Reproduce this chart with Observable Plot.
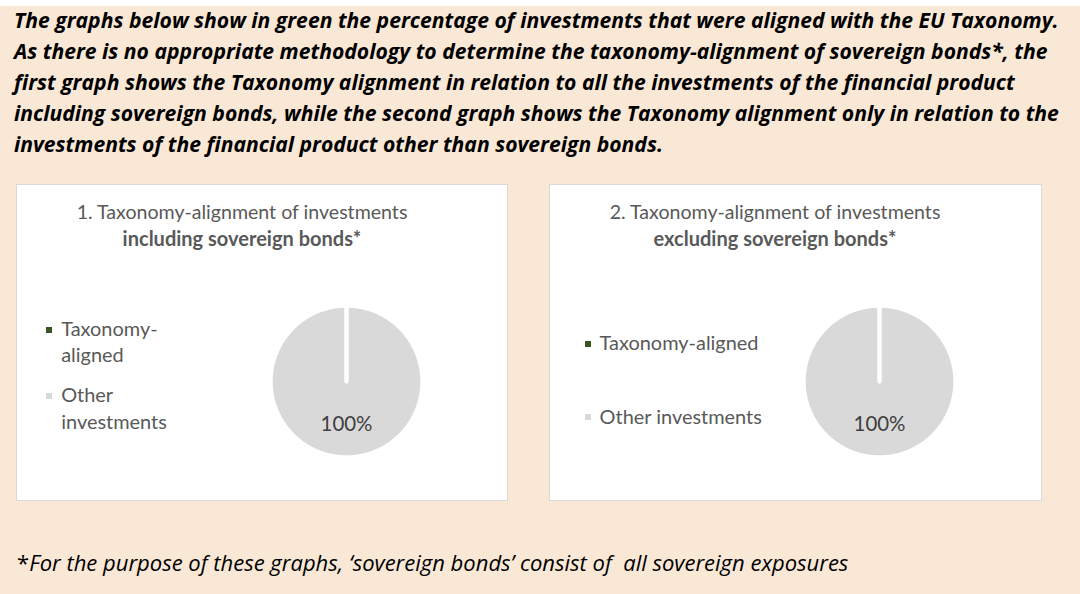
<!DOCTYPE html>
<html>
<head>
<meta charset="utf-8">
<script src="https://cdn.jsdelivr.net/npm/d3@7"></script>
<script src="https://cdn.jsdelivr.net/npm/@observablehq/plot@0.6"></script>
<style>
  html, body { margin: 0; padding: 0; background: #ffffff; }
  body { width: 1080px; height: 594px; position: relative; overflow: hidden; font-family: Lato, "Open Sans", sans-serif; }
  .abs { position: absolute; white-space: nowrap; line-height: 1.2; }
</style>
</head>
<body>
<script>
// ---------- data ----------
const headerLines = [
  "The graphs below show in green the percentage of investments that were aligned with the EU Taxonomy.",
  "As there is no appropriate methodology to determine the taxonomy-alignment of sovereign bonds*, the",
  "first graph shows the Taxonomy alignment in relation to all the investments of the financial product",
  "including sovereign bonds, while the second graph shows the Taxonomy alignment only in relation to the",
  "investments of the financial product other than sovereign bonds."
];
const chartTitles = ["1. Taxonomy-alignment of investments", "2. Taxonomy-alignment of investments"];
const chartSubtitles = ["including sovereign bonds*", "excluding sovereign bonds*"];
const categories = ["Taxonomy-aligned", "Other investments"];
const legendLines1 = [["Taxonomy-", "aligned"], ["Other", "investments"]];
const legendLines2 = [["Taxonomy-aligned"], ["Other investments"]];
const valuesIncluding = [0, 100];
const valuesExcluding = [0, 100];
const sliceColors = ["#375623", "#D9D9D9"];
const footnoteMark = "*";
const footnoteText = "For the purpose of these graphs, \u2018sovereign bonds\u2019 consist of \u00a0all sovereign exposures";

// ---------- helpers ----------
const body = document.body;
const ctx = document.createElement("canvas").getContext("2d");
function fitSize(str, family, weight, style, targetWidth) {
  ctx.font = `${style} ${weight} 20px ${family}`;
  return 20 * targetWidth / ctx.measureText(str).width;
}
function box(x, y, w, h, style) {
  const d = document.createElement("div");
  d.style.position = "absolute";
  d.style.left = x + "px"; d.style.top = y + "px";
  d.style.width = w + "px"; d.style.height = h + "px";
  d.style.boxSizing = "border-box";
  Object.assign(d.style, style || {});
  body.appendChild(d);
  return d;
}
function text(str, x, baseline, o) {
  const size = o.size;
  const d = document.createElement("div");
  d.className = "abs";
  d.style.fontFamily = o.family || "Lato";
  d.style.fontSize = size + "px";
  const asc = (o.family || "Lato").includes("Open Sans") ? 1.069 : 0.987;
  const lh = (o.family || "Lato").includes("Open Sans") ? 1.362 : 1.2;
  d.style.lineHeight = lh;
  d.style.top = (baseline - asc * size) + "px";
  d.style.color = o.color || "#000";
  d.style.fontWeight = o.weight || "normal";
  d.style.fontStyle = o.style || "normal";
  if (o.anchor === "middle") {
    d.style.left = (x - 500) + "px"; d.style.width = "1000px"; d.style.textAlign = "center";
  } else {
    d.style.left = x + "px";
  }
  if (o.html) d.innerHTML = str; else d.textContent = str;
  body.appendChild(d);
  return d;
}

// page background
box(0, 6, 1080, 588, { background: "#FAE8D7" });

// header
const HF = "'Open Sans'";
const headerSize = fitSize(headerLines[0], HF, "bold", "italic", 1045);
const headerBase = [28.5, 59.5, 90.5, 121.5, 152.5];
headerLines.forEach((l, i) => text(l, 14, headerBase[i], { family: HF, size: headerSize, weight: "bold", style: "italic", color: "#000" }));

// chart text sizes
const titleSize = fitSize(chartTitles[0], "Lato", "normal", "normal", 332);
const subSize = fitSize(chartSubtitles[0], "Lato", "bold", "normal", 239);
const legendSize = fitSize(categories[0], "Lato", "normal", "normal", 159);
const labelSize = fitSize("100%", "Lato", "normal", "normal", 52);

// panels
const panels = [
  { x: 16, w: 492, titleX: 242, cx: 345.8, legendX: 49, legendTextX: 61.2, values: valuesIncluding,
    legend: legendLines1, legendBase: [[336.5, 363], [403, 429.5]] },
  { x: 549, w: 493, titleX: 775, cx: 879.4, legendX: 588, legendTextX: 599.6, values: valuesExcluding,
    legend: legendLines2, legendBase: [[350.7], [424.4]] }
];
const cy = 381.2, R = 73.8, sw = 4;

panels.forEach((p, k) => {
  box(p.x, 184, p.w, 317, { background: "#ffffff", border: "1px solid #D9D9D9" });
  text(chartTitles[k], p.titleX, 219.5, { size: titleSize, color: "#595959", anchor: "middle" });
  text(chartSubtitles[k], p.titleX, 245.5, { size: subSize, color: "#595959", weight: "bold", anchor: "middle" });

  // legend
  categories.forEach((c, i) => {
    const bl = p.legendBase[i];
    box(p.legendX - 3, bl[0] - 10, 6, 6, { background: sliceColors[i] });
    p.legend[i].forEach((ln, j) => text(ln, p.legendTextX, bl[j], { size: legendSize, color: "#595959" }));
  });

  // pie drawn through Plot scales
  const pie = d3.pie().sort(null).value(d => d.value)(categories.map((c, i) => ({ name: c, value: p.values[i], color: sliceColors[i] })));
  const pts = [];
  pie.slice().reverse().forEach(s => {
    pts.push({ name: s.data.name, color: s.data.color, x: 0, y: 0 });
    const n = Math.max(1, Math.ceil((s.endAngle - s.startAngle) / (Math.PI / 180)));
    for (let t = 0; t <= n; t++) {
      const a = s.startAngle + (s.endAngle - s.startAngle) * t / n;
      pts.push({ name: s.data.name, color: s.data.color, x: Math.sin(a), y: Math.cos(a) });
    }
  });
  const labels = pie.filter(s => s.data.value > 0).map(s => {
    const m = (s.startAngle + s.endAngle) / 2;
    return { x: 0.56 * Math.sin(m), y: 0.56 * Math.cos(m), label: d3.format(".0f")(s.data.value) + "%" };
  });
  const S = 170, Rp = R + sw / 2, c = S / 2;
  const chart = Plot.plot({
    width: S, height: S, margin: 0,
    x: { domain: [-1, 1], range: [c - Rp, c + Rp], axis: null },
    y: { domain: [-1, 1], range: [c + Rp, c - Rp], axis: null },
    color: { type: "identity" },
    style: { background: "transparent", overflow: "visible" },
    marks: [
      Plot.line(pts, { x: "x", y: "y", z: "name", fill: "color", stroke: "#ffffff", strokeWidth: sw,
        curve: "linear-closed", strokeLinejoin: "round", strokeLinecap: "round" }),
      Plot.text(labels, { x: "x", y: "y", text: "label", fontSize: labelSize, fill: "#404040", fontFamily: "Lato" })
    ]
  });
  const holder = box(p.cx - c, cy - c, S, S, {});
  holder.appendChild(chart);
});

// footnote
const footSize = fitSize(footnoteMark + footnoteText, HF, "normal", "italic", 832);
text('<span style="font-style:normal">' + footnoteMark + '</span>' + footnoteText, 17, 571, { family: HF, size: footSize, style: "italic", color: "#000", html: true });
</script>
</body>
</html>
